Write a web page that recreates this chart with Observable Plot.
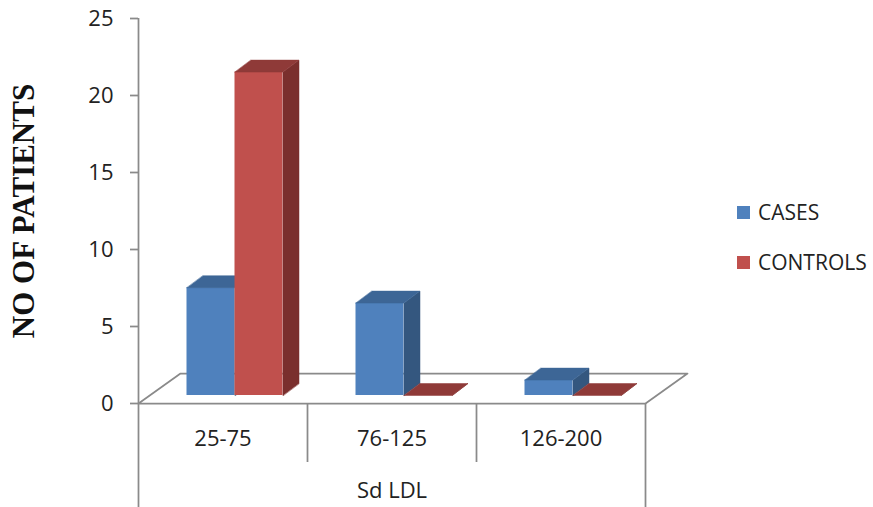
<!DOCTYPE html>
<html>
<head>
<meta charset="utf-8">
<script src="https://cdn.jsdelivr.net/npm/d3@7"></script>
<script src="https://cdn.jsdelivr.net/npm/@observablehq/plot@0.6"></script>
<style>
  html, body { margin: 0; padding: 0; background: #fff; }
  #chart { position: relative; width: 873px; height: 507px; font-family: "Open Sans", sans-serif; }
  #chart svg { position: absolute; left: 0; top: 0; }
  .legend-row { position: absolute; left: 737px; height: 26px; display: flex; align-items: center;
    font-size: 21px; color: #222; white-space: nowrap; }
  .legend-row span.sw { display: inline-block; width: 13px; height: 13px; margin-right: 8px; }
</style>
</head>
<body>
<div id="chart"></div>
<script>
// Patients per Sd LDL range
const categories = ["25-75", "76-125", "126-200"];
const cases = [7, 6, 1];
const controls = [21, 0, 0];
const seriesNames = ["CASES", "CONTROLS"];
const yTicks = [0, 5, 10, 15, 20, 25];
const xTitle = "Sd LDL";
const yTitle = "NO OF PATIENTS";

// face colours per series: front, top, side
const palette = {
  CASES:    {front: "#4F81BD", top: "#3D6696", side: "#34577F"},
  CONTROLS: {front: "#C0504D", top: "#8F3A38", side: "#7A2F2D"}
};

// plot frame
const W = 873, H = 507;
const mL = 138, mR = 228, mT = 18, mB = 104;
const yMax = 25;
const kx = (W - mL - mR) / categories.length;   // px per category
const ky = (H - mT - mB) / yMax;                 // px per patient

// 3-D geometry, in pixels, converted to data units
const barW = 48 / kx;              // bar width
const pairShift = 12 / kx;         // pair offset from category centre
const depthX = 16 / kx, depthY = 12 / ky;   // bar depth
const floorX = 42 / kx, floorY = 30 / ky;   // floor depth
const baseLift = -8;                         // bar base above floor front edge (px)
const tickLen = 8 / kx;
const gray = "#8a8a8a";

const series = [cases, controls];
const bars = [];
seriesNames.forEach((name, s) => {
  categories.forEach((c, i) => {
    const x0 = i + 0.5 + pairShift - barW + s * barW;
    bars.push({name, cat: c, value: series[s][i], x0, x1: x0 + barW});
  });
});

function facePolys(list, kind) {
  const pts = [];
  list.forEach((b, j) => {
    const v = b.value;
    let poly;
    if (kind === "top") {
      poly = [[b.x0, v], [b.x1, v], [b.x1 + depthX, v + depthY], [b.x0 + depthX, v + depthY]];
    } else {
      poly = [[b.x1, 0], [b.x1, v], [b.x1 + depthX, v + depthY], [b.x1 + depthX, depthY]];
    }
    poly.forEach(([x, y]) => pts.push({id: kind + j, x, y}));
  });
  return pts;
}

const floor = [
  {x: 0, y: 0}, {x: 0 + floorX, y: floorY},
  {x: categories.length + floorX, y: floorY}, {x: categories.length, y: 0}
];

const bottomY = -mB / ky;                    // bottom edge of the chart
const dividerY = -(462 - (H - mB)) / ky;     // category divider length

const barMarks = [];
seriesNames.forEach(name => {
  const list = bars.filter(b => b.name === name);
  const col = palette[name];
  barMarks.push(
    Plot.rect(list, {x1: "x0", x2: "x1", y1: 0, y2: "value", fill: col.front, dy: baseLift}),
    Plot.line(facePolys(list, "side"), {x: "x", y: "y", z: "id", fill: col.side, stroke: col.side, strokeWidth: 0.5, curve: "linear-closed", dy: baseLift}),
    Plot.line(facePolys(list, "top"), {x: "x", y: "y", z: "id", fill: col.top, stroke: col.top, strokeWidth: 0.5, curve: "linear-closed", dy: baseLift})
  );
});

const chart = Plot.plot({
  width: W, height: H,
  marginLeft: mL, marginRight: mR, marginTop: mT, marginBottom: mB,
  x: {domain: [0, categories.length], axis: null},
  y: {domain: [0, yMax], axis: null},
  style: {fontFamily: "'Open Sans', sans-serif", background: "#fff", overflow: "visible"},
  marks: [
    // floor outline
    Plot.line(floor, {x: "x", y: "y", stroke: gray, strokeWidth: 1.75, curve: "linear-closed"}),
    // axis line and category box
    Plot.ruleX([0], {y1: yMax, y2: bottomY, stroke: gray, strokeWidth: 1.75}),
    Plot.ruleX([categories.length], {y1: 0, y2: bottomY, stroke: gray, strokeWidth: 1.75}),
    Plot.ruleX(d3.range(1, categories.length), {y1: 0, y2: dividerY, stroke: gray, strokeWidth: 1.75}),
    // y ticks and labels
    Plot.ruleY(yTicks, {x1: -tickLen, x2: 0, stroke: gray, strokeWidth: 1.75}),
    Plot.text(yTicks, {x: 0, y: d => d, dx: -25, textAnchor: "end", fontSize: 22, fill: "#222"}),
    ...barMarks,
    // category labels and axis titles
    Plot.text(categories, {x: (d, i) => i + 0.5, y: 0, dy: 35, fontSize: 22, fill: "#222"}),
    Plot.text([xTitle], {x: categories.length / 2, y: 0, dy: 87, fontSize: 22, fill: "#222"}),
    Plot.text([yTitle], {frameAnchor: "left", dx: -114, rotate: -90, textAnchor: "middle",
      fontFamily: "'Liberation Serif', serif", fontWeight: "bold", fontSize: 31, fill: "#111"})
  ]
});

const root = document.getElementById("chart");
root.appendChild(chart);

// legend
const legendCentres = [212, 262];
seriesNames.forEach((name, s) => {
  const row = document.createElement("div");
  row.className = "legend-row";
  row.style.top = (legendCentres[s] - 13) + "px";
  const sw = document.createElement("span");
  sw.className = "sw";
  sw.style.background = palette[name].front;
  row.appendChild(sw);
  row.appendChild(document.createTextNode(name));
  root.appendChild(row);
});
</script>
</body>
</html>
